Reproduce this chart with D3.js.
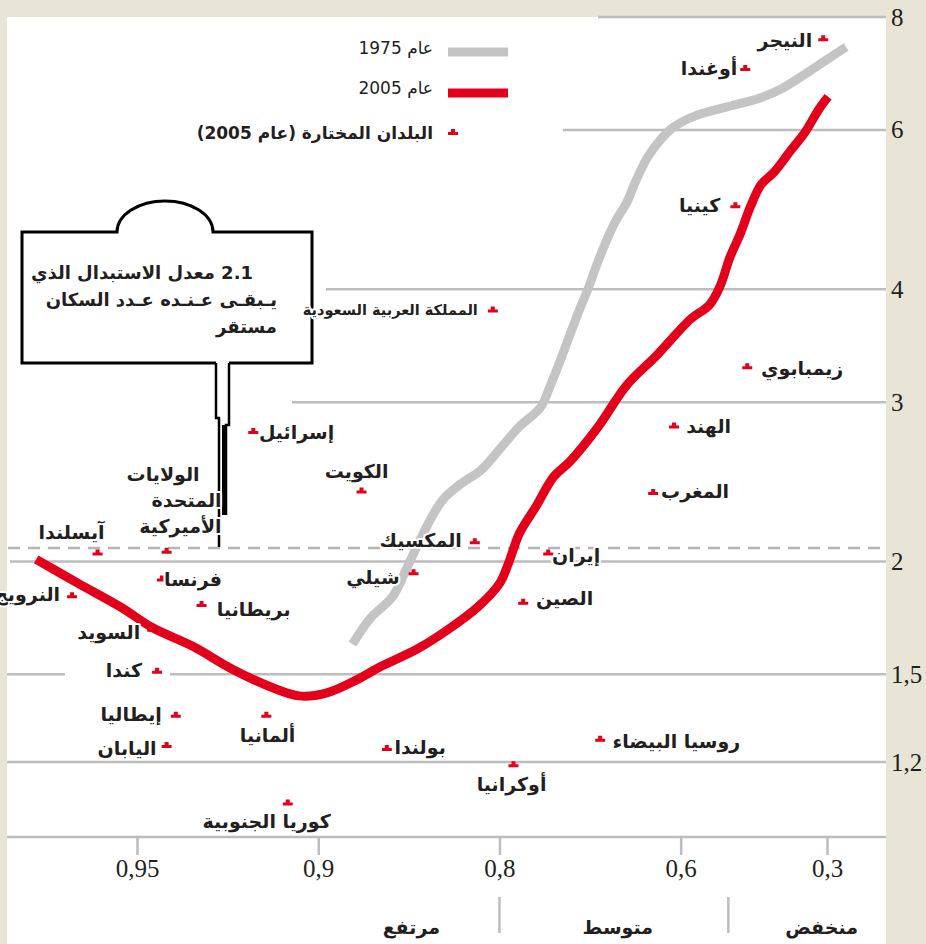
<!DOCTYPE html>
<html>
<head>
<meta charset="utf-8">
<script src="https://cdn.jsdelivr.net/npm/d3@7"></script>
<style>
body { margin: 0; background: #e8e5d6; }
svg { display: block; }
.ar { font-family: 'DejaVu Sans', sans-serif; fill: #231f20; }
.halo { stroke: #fff; stroke-width: 4px; paint-order: stroke; stroke-linejoin: round; }
</style>
</head>
<body>
<div id="chart"></div>
<script>
let width = 926
let height = 944

// fertility rate vs human development index, 1975 and 2005
let hdi2005 = [0.966,0.960,0.953,0.947,0.938,0.928,0.916,0.907,0.897,0.884,0.873,0.854,0.836,0.816,0.800,0.793,0.784,0.770,0.754,0.738,0.708,0.675,0.635,0.584,0.554,0.535,0.517,0.498,0.478,0.456,0.428,0.390,0.356,0.321,0.297]
let tfr2005 = [2.01,1.89,1.78,1.69,1.61,1.52,1.45,1.42,1.43,1.48,1.53,1.60,1.68,1.78,1.89,1.99,2.15,2.30,2.48,2.58,2.82,3.13,3.38,3.71,3.84,4.03,4.34,4.60,4.93,5.22,5.39,5.70,5.97,6.33,6.53]

let hdi1975 = [0.886,0.878,0.867,0.860,0.853,0.845,0.838,0.827,0.814,0.800,0.784,0.766,0.757,0.747,0.737,0.727,0.719,0.712,0.700,0.688,0.675,0.663,0.648,0.630,0.610,0.577,0.524,0.458,0.413,0.356,0.302,0.247]
let tfr1975 = [1.62,1.73,1.83,1.96,2.10,2.25,2.35,2.44,2.52,2.66,2.82,2.96,3.13,3.35,3.59,3.83,4.01,4.20,4.50,4.76,4.98,5.27,5.59,5.85,6.05,6.22,6.36,6.51,6.66,6.92,7.17,7.41]

let countries = ['النيجر','أوغندا','كينيا','المملكة العربية السعودية','زيمبابوي','الهند','المغرب','إيران','الصين','المكسيك','شيلي','الكويت','إسرائيل','بولندا','أوكرانيا','روسيا البيضاء','كوريا الجنوبية','ألمانيا','اليابان','إيطاليا','كندا','السويد','النرويج','فرنسا','بريطانيا','آيسلندا','الولايات\nالمتحدة\nالأميركية']
let countryHdi = [0.310,0.488,0.507,0.805,0.484,0.610,0.640,0.759,0.781,0.818,0.856,0.882,0.922,0.870,0.789,0.706,0.911,0.918,0.944,0.942,0.946,0.947,0.961,0.945,0.936,0.957,0.944]
let countryTfr = [7.56,7.01,4.94,3.79,3.28,2.82,2.38,2.04,1.80,2.10,1.94,2.39,2.78,1.24,1.19,1.27,1.08,1.35,1.25,1.35,1.51,1.68,1.83,1.91,1.79,2.04,2.05]

let replacementRate = 2.07

let hdiTicks = [0.95, 0.9, 0.8, 0.6, 0.3]
let tfrTicks = [8, 6, 4, 3, 2, 1.5, 1.2]
let bands = ['مرتفع', 'متوسط', 'منخفض']
let bandEdges = [0.8, 0.52]

// label offsets from marker (right edge of text, vertical centre)
let labelPos = [[-11,1],[-8,-1],[-15,-1],[-15,0],[96,1],[57,0],[76,-2],[52,2],[70,-4],[-13,-2],[-14,4],[27,-20],[81,0],[59,-2],[33,19],[140,2],[43,18],[29,20],[-10,2],[-14,-1],[-15,-1],[-12,2],[-12,-2],[60,0],[89,4],[7,-21],[55,-77]]

let red = '#e2001a'
let grey = '#c4c4c4'
let gridColor = '#bdbdbd'
let serif = "'Liberation Serif', 'Times New Roman', serif"

// x: log of the gap to 1
let gapScale = d3.scaleLog()
	.domain([0.05, 0.7])
	.range([137, 827])
let x = (h) => gapScale(1 - h)

let y = d3.scaleLog()
	.domain([8, 1.2])
	.range([17, 762])

let comma = (v) => String(+v.toFixed(2)).replace('.', ',')

let svg = d3.select('#chart').append('svg')
	.attr('width', width)
	.attr('height', height)

svg.append('rect').attr('width', width).attr('height', height).attr('fill', '#e8e5d6')
svg.append('rect').attr('x', 7).attr('y', 17).attr('width', 879).attr('height', height - 17).attr('fill', '#fff')

// grid lines, each starting where the picture starts it
let gridStart = {8: 598, 6: 563, 4: 326, 3: 292, 2: 10, 1.5: 7, 1.2: 7}
let grid = svg.append('g')
tfrTicks.forEach((t) => {
	let segs = t === 1.5 ? [[gridStart[t], 65], [170, 886]] : [[gridStart[t], 886]]
	segs.forEach((s) => {
		grid.append('line')
			.attr('x1', s[0]).attr('x2', s[1])
			.attr('y1', y(t)).attr('y2', y(t))
			.attr('stroke', gridColor).attr('stroke-width', 2.5)
	})
})

grid.append('line')
	.attr('x1', 8).attr('x2', 880)
	.attr('y1', y(replacementRate)).attr('y2', y(replacementRate))
	.attr('stroke', '#b5b5b5').attr('stroke-width', 2.5)
	.attr('stroke-dasharray', '12,8')

// axes
let yAxis = d3.axisRight(y)
	.tickValues(tfrTicks)
	.tickFormat(comma)
	.tickSize(0)
	.tickPadding(5)
let yg = svg.append('g')
	.attr('transform', 'translate(886,0)')
	.call(yAxis)
yg.select('.domain').remove()
yg.selectAll('text')
	.style('font-family', serif)
	.style('font-size', '25px')
	.style('fill', '#231f20')

let xAxis = d3.axisBottom(gapScale)
	.tickValues(hdiTicks.map((h) => 1 - h))
	.tickFormat((d) => comma(1 - d))
	.tickSize(18)
	.tickPadding(4)
let xg = svg.append('g')
	.attr('transform', 'translate(0,837)')
	.call(xAxis)
xg.select('.domain').remove()
xg.selectAll('line').attr('stroke', gridColor).attr('stroke-width', 2.5)
xg.selectAll('text')
	.style('font-family', serif)
	.style('font-size', '25px')
	.style('fill', '#231f20')
svg.append('line')
	.attr('x1', 7).attr('x2', 886).attr('y1', 837).attr('y2', 837)
	.attr('stroke', gridColor).attr('stroke-width', 2.5)

// band labels under the axis
let bandRight = [440, 653, 858]
svg.selectAll('.band')
	.data(bands)
	.enter().append('text')
	.attr('class', 'ar band')
	.attr('direction', 'rtl')
	.attr('x', (d, i) => bandRight[i])
	.attr('y', 934)
	.attr('font-size', 19)
	.attr('font-weight', 'bold')
	.text((d) => d)
bandEdges.forEach((h) => {
	svg.append('line')
		.attr('x1', x(h)).attr('x2', x(h))
		.attr('y1', 897).attr('y2', 933)
		.attr('stroke', gridColor).attr('stroke-width', 2.5)
})

// curves
let line = d3.line()
	.x((d) => x(d[0]))
	.y((d) => y(d[1]))
	.curve(d3.curveCatmullRom)

svg.append('path')
	.datum(hdi1975.map((h, i) => [h, tfr1975[i]]))
	.attr('d', line)
	.attr('fill', 'none')
	.attr('stroke', grey)
	.attr('stroke-width', 9)

svg.append('path')
	.datum(hdi2005.map((h, i) => [h, tfr2005[i]]))
	.attr('d', line)
	.attr('fill', 'none')
	.attr('stroke', red)
	.attr('stroke-width', 9)

// callout for the replacement rate
let callout = svg.append('g')
	.attr('fill', 'none')
	.attr('stroke', '#000')
callout.append('path')
	.attr('d', 'M216,363 H22 V232 H117 A48,31 0 0 1 213,232 H312 V363 H229')
	.attr('fill', '#fff')
	.attr('stroke-width', 3)
callout.append('path')
	.attr('d', 'M216,363 V418 H219 V547')
	.attr('stroke-width', 2.5)
callout.append('path')
	.attr('d', 'M229,363 V425 H226 V515')
	.attr('stroke-width', 2.5)
callout.append('line')
	.attr('x1', 224).attr('x2', 224).attr('y1', 425).attr('y2', 515)
	.attr('stroke-width', 4)
let calloutLines = ['2.1 معدل الاستبدال الذي', 'يـبقـى عـنـده عـدد السكان', 'مستقر']
let calloutRight = [253, 277, 277]
callout.selectAll('text')
	.data(calloutLines)
	.enter().append('text')
	.attr('class', 'ar')
	.attr('stroke', 'none')
	.attr('direction', 'rtl')
	.attr('x', (d, i) => calloutRight[i])
	.attr('y', (d, i) => 279 + i * 27)
	.attr('font-size', 18)
	.attr('font-weight', 'bold')
	.text((d) => d)

// countries
let marker = 'M-5,2h10v-3h-3v-3h-4v3h-3z'
let marks = svg.append('g')
countries.forEach((name, i) => {
	let cx = x(countryHdi[i])
	let cy = y(countryTfr[i])
	marks.append('path')
		.attr('d', marker)
		.attr('transform', 'translate(' + cx + ',' + cy + ')')
		.attr('fill', red)
	let lines = name.split('\n')
	let t = marks.append('text')
		.attr('class', 'ar halo')
		.attr('direction', 'rtl')
		.attr('font-size', i === 3 ? 14.5 : 19)
		.attr('font-weight', 'bold')
	lines.forEach((l, j) => {
		t.append('tspan')
			.attr('x', cx + labelPos[i][0] - (lines.length > 1 && j === 0 ? 22 : 0))
			.attr('y', cy + labelPos[i][1] + j * 26)
			.attr('dy', '0.35em')
			.text(l)
	})
})

// legend
let legend = svg.append('g')
let legendText = ['عام 1975', 'عام 2005', 'البلدان المختارة (عام 2005)']
let legendY = [48, 88, 133]
legend.selectAll('text')
	.data(legendText)
	.enter().append('text')
	.attr('class', 'ar')
	.attr('direction', 'rtl')
	.attr('x', 433)
	.attr('y', (d, i) => legendY[i])
	.attr('dy', '0.35em')
	.attr('font-size', 17)
	.attr('font-weight', (d, i) => i === 2 ? 'bold' : 'normal')
	.text((d) => d)
legend.append('line').attr('x1', 448).attr('x2', 508).attr('y1', 52).attr('y2', 52)
	.attr('stroke', grey).attr('stroke-width', 9)
legend.append('line').attr('x1', 448).attr('x2', 508).attr('y1', 93).attr('y2', 93)
	.attr('stroke', red).attr('stroke-width', 9)
legend.append('path').attr('d', marker).attr('transform', 'translate(453,133)').attr('fill', red)
</script>
</body>
</html>
